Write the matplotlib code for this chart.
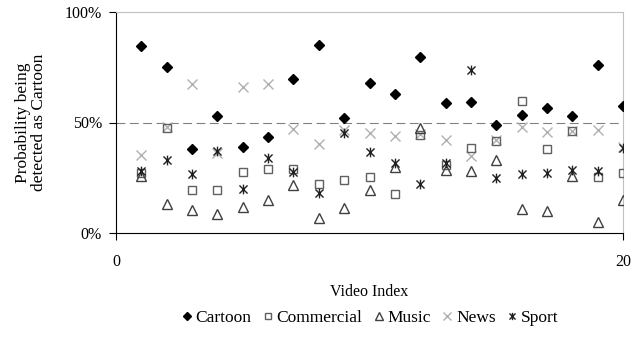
import numpy as np
import matplotlib
matplotlib.use('Agg')
import matplotlib.pyplot as plt
from matplotlib.path import Path

plt.rcParams['font.family'] = ['Liberation Serif', 'DejaVu Serif']

video_index = list(range(1, 21))
cartoon = [84.4, 75.2, 38.1, 53.1, 39.0, 43.3, 69.7, 85.2, 52.0, 68.0,
           62.9, 79.6, 58.6, 59.3, 48.9, 53.2, 56.6, 53.1, 76.0, 57.5]
commercial = [27.1, 47.5, 19.5, 19.5, 27.6, 28.8, 28.9, 22.2, 24.0, 25.2,
              17.8, 44.2, 30.9, 38.3, 41.8, 59.6, 38.0, 46.3, 25.2, 27.0]
music = [25.6, 12.9, 10.5, 8.7, 11.8, 14.8, 21.7, 6.8, 11.1, 19.3,
         29.7, 47.5, 28.6, 27.9, 32.9, 11.0, 9.9, 25.6, 4.8, 14.9]
news = [35.4, 47.8, 67.2, 36.0, 66.1, 67.2, 46.9, 40.3, 46.7, 45.1,
        43.9, 45.0, 42.1, 34.7, 42.1, 47.8, 45.8, 46.3, 46.4, 39.0]
sport = [27.9, 32.9, 26.8, 37.2, 19.9, 34.1, 27.4, 17.9, 45.1, 36.5,
         31.9, 22.2, 31.7, 73.6, 24.9, 26.8, 27.3, 28.3, 28.2, 38.6]

# asterisk like the Excel "star" marker: x with a vertical bar
star = Path([(-1, -1), (1, 1), (-1, 1), (1, -1), (0, -1.2), (0, 1.2)],
            [Path.MOVETO, Path.LINETO, Path.MOVETO, Path.LINETO, Path.MOVETO, Path.LINETO])

fig = plt.figure(figsize=(6.44, 3.49), dpi=100)
ax = fig.add_axes([116 / 644, 1 - 233 / 349, 507 / 644, 221 / 349])

ax.axhline(50, color='#808080', lw=0.8, ls=(0, (8, 4)), zorder=1)

ax.plot(video_index, cartoon, ls='none', marker='D', ms=5, color='black',
        label='Cartoon', zorder=5)
ax.plot(video_index, commercial, ls='none', marker='s', ms=6, mfc='none',
        mec='#606060', mew=1, label='Commercial', zorder=3)
ax.plot(video_index, music, ls='none', marker='^', ms=7, mfc='none',
        mec='#404040', mew=1, label='Music', zorder=3)
ax.plot(video_index, news, ls='none', marker='x', ms=7, color='#b0b0b0',
        mew=1, label='News', zorder=2)
ax.plot(video_index, sport, ls='none', marker=star, ms=7, color='#202020',
        mew=1, label='Sport', zorder=4)

ax.set_xlim(0, 20)
ax.set_ylim(0, 100)
ax.set_xticks([0, 20])
ax.set_yticks([0, 50, 100])
ax.set_yticklabels(['0%', '50%', '100%'])
ax.tick_params(axis='both', labelsize=11.5, direction='out', length=5, width=0.8)
ax.tick_params(axis='x', pad=10)
ax.tick_params(axis='y', pad=5)

for side in ['top', 'right']:
    ax.spines[side].set_color('#c0c0c0')
for side in ['left', 'bottom']:
    ax.spines[side].set_color('black')
    ax.spines[side].set_linewidth(0.8)

ax.set_xlabel('Video Index', fontsize=11.5, labelpad=10)
ax.set_ylabel('Probability being\ndetected as Cartoon', fontsize=12.5,
              labelpad=13, linespacing=1.0)

fig.legend(loc='center', bbox_to_anchor=(369.5 / 644, 1 - 318 / 349), ncol=5,
           frameon=False, fontsize=12.5, handlelength=0.7, handletextpad=0.15,
           columnspacing=0.6, markerscale=0.75)

fig.savefig('out.png', dpi=100)
